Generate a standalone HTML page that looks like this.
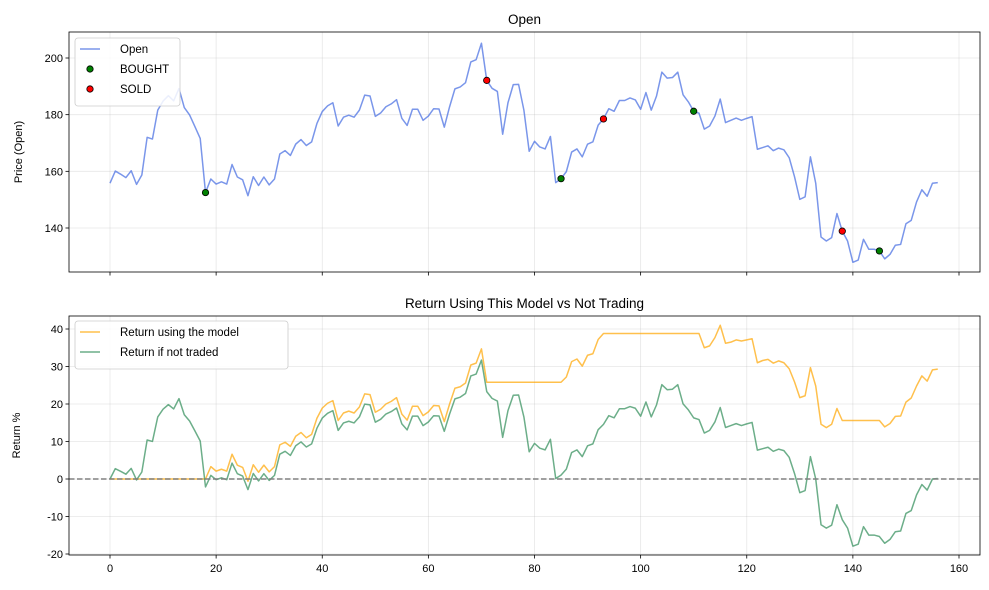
<!DOCTYPE html>
<html><head><meta charset="utf-8">
<style>
body{margin:0;background:#fff;}
svg{display:block;font-family:"Liberation Sans","DejaVu Sans",sans-serif;}
</style></head>
<body>
<svg id="chart" width="989" height="590" viewBox="0 0 989 590" xmlns="http://www.w3.org/2000/svg"></svg>
<script>
const openPrices = [155.8,160.1,159,157.8,160.2,155.4,158.7,172,171.4,181.6,184.8,186.7,184.9,189.2,182.5,179.9,175.8,171.6,152.5,157.3,
155.5,156.3,155.5,162.4,158,157,151.4,158.1,155,158,155.2,157.3,166.1,167.3,165.6,169.6,171.2,169.1,170.4,176.9,
181.1,183.1,184.2,176,179.1,179.8,179.1,181.6,186.9,186.6,179.4,180.6,182.8,183.8,185.3,178.7,176.2,181.9,181.9,178,
179.5,182.1,182,175.6,182.8,189.1,189.8,191.3,198.6,199.4,205.2,192.1,189.3,188.2,173.1,184.2,190.6,190.7,181.6,167.1,
170.6,168.6,167.9,172.3,156,157.4,159.9,166.8,167.9,165.1,169.6,170.4,176.3,178.5,182.1,181.2,185,185,185.9,185.2,
181.9,187.8,181.6,186.6,195,192.9,193.1,195,187,184.5,181.2,180.5,174.9,176,179.5,185.5,177.2,178,178.8,178,
178.7,179.3,167.8,168.4,169,167.3,168.2,167.6,164.8,158.1,150.1,151,165.1,155.8,136.8,135.4,136.6,145.1,138.9,135.4,
127.9,128.7,136,132.5,132.5,131.9,129.1,130.7,133.9,134.2,141.5,142.7,149.2,153.5,151.2,155.8,156];
const modelReturn = [0,0,0,0,0,0,0,0,0,0,0,0,0,0,0,0,0,0,0,3.3,
2.1,2.6,2.1,6.6,3.7,3.1,-0.6,3.8,1.8,3.7,1.9,3.3,9.1,9.8,8.7,11.4,12.4,11.0,11.9,16.2,
18.9,20.2,20.9,15.6,17.6,18.1,17.6,19.2,22.7,22.5,17.8,18.6,20.0,20.7,21.7,17.3,15.7,19.4,19.4,16.9,
17.9,19.6,19.5,15.3,20.0,24.2,24.6,25.6,30.4,30.9,34.7,25.8,25.8,25.8,25.8,25.8,25.8,25.8,25.8,25.8,
25.8,25.8,25.8,25.8,25.8,25.8,27.2,31.3,32,30.1,33,33.4,37.2,38.8,38.8,38.8,38.8,38.8,38.8,38.8,
38.8,38.8,38.8,38.8,38.8,38.8,38.8,38.8,38.8,38.8,38.8,38.8,35,35.5,37.7,41,36.2,36.5,37.1,36.8,
37.1,37.4,31,31.6,31.9,30.9,31.5,31,29.4,25.9,21.7,22.2,29.7,24.8,14.6,13.7,14.6,18.8,15.6,15.6,
15.6,15.6,15.6,15.6,15.6,15.6,13.9,14.8,16.7,16.8,20.5,21.6,24.8,27.5,26.1,29.1,29.3];
const boughtIdx = [18,85,110,145];
const soldIdx = [71,93,138];
const xTicks = [0,20,40,60,80,100,120,140,160];
const priceTicks = [140,160,180,200];
const returnTicks = [-20,-10,0,10,20,30,40];

const noTradeReturn = openPrices.map(v => (v/openPrices[0]-1)*100);

const NS = "http://www.w3.org/2000/svg";
const svg = document.getElementById('chart');
function mk(tag, attrs, parent){
  const e = document.createElementNS(NS, tag);
  for (const k in attrs) e.setAttribute(k, attrs[k]);
  (parent||svg).appendChild(e);
  return e;
}
const L = 69, R = 980;
const xs = i => 110 + (i)*(959-110)/160;
const yTop = v => 58 + (200 - v)*2.8333;
const yBot = v => 479 - v*3.75;

function axes(top, bottom, yFn, yticks, title, ylabel, ylx, showX, name){
  const g = mk('g', {});
  
  
  xTicks.forEach(t => {
    const l = mk('line', {x1:xs(t), x2:xs(t), y1:top, y2:bottom, stroke:'#b0b0b0', 'stroke-opacity':0.3, 'stroke-width':0.8}, g);
    
    
  });
  yticks.forEach(t => {
    const y = yFn(t);
    const l = mk('line', {x1:L, x2:R, y1:y, y2:y, stroke:'#b0b0b0', 'stroke-opacity':0.3, 'stroke-width':0.8}, g);
    
    
    const tk = mk('line', {x1:L-3.5, x2:L, y1:y, y2:y, stroke:'#000', 'stroke-width':0.8}, g);
    
    
    const tx = mk('text', {x:L-6, y:y+4, 'text-anchor':'end', 'font-size':11}, g);
    tx.textContent = t;
    
    
  });
  xTicks.forEach(t => {
    const tk = mk('line', {x1:xs(t), x2:xs(t), y1:bottom, y2:bottom+3.5, stroke:'#000', 'stroke-width':0.8}, g);
    
    
    if (showX){
      const tx = mk('text', {x:xs(t), y:bottom+17, 'text-anchor':'middle', 'font-size':11}, g);
      tx.textContent = t;
      
      
    }
  });
  const tt = mk('text', {x:(L+R)/2, y:top-8, 'text-anchor':'middle', 'font-size':13.5}, g);
  tt.textContent = title;
  
  
  const yl = mk('text', {x:0, y:0, 'text-anchor':'middle', 'font-size':11, transform:`translate(${ylx},${(top+bottom)/2}) rotate(-90)`}, g);
  yl.textContent = ylabel;
  
  
  return g;
}
function frame(top, bottom){
  const r = mk('rect', {x:L, y:top, width:R-L, height:bottom-top, fill:'none', stroke:'#000', 'stroke-width':0.8});
  
  
}
function line(data, yFn, color, name){
  const d = data.map((v,i) => (i?'L':'M') + xs(i).toFixed(2) + ',' + yFn(v).toFixed(2)).join('');
  const p = mk('path', {d, fill:'none', stroke:color, 'stroke-width':1.5, 'stroke-linejoin':'round'});
  
  
}

axes(32, 272, yTop, priceTicks, 'Open', 'Price (Open)', 22, false, 'price-axes');
line(openPrices, yTop, 'rgba(65,105,225,0.7)', 'open-line');
boughtIdx.forEach(i => {
  const c = mk('circle', {cx:xs(i), cy:yTop(openPrices[i]), r:3.2, fill:'#008000', stroke:'#000', 'stroke-width':0.8});
  
  
});
soldIdx.forEach(i => {
  const c = mk('circle', {cx:xs(i), cy:yTop(openPrices[i]), r:3.2, fill:'#ff0000', stroke:'#000', 'stroke-width':0.8});
  
  
});
frame(32, 272);

axes(316, 555, yBot, returnTicks, 'Return Using This Model vs Not Trading', 'Return %', 20, true, 'return-axes');
line(modelReturn, yBot, 'rgba(255,165,0,0.7)', 'model-return-line');
line(noTradeReturn, yBot, 'rgba(46,139,87,0.7)', 'no-trade-return-line');
const zl = mk('line', {x1:L, x2:R, y1:yBot(0), y2:yBot(0), stroke:'#808080', 'stroke-width':1.5, 'stroke-dasharray':'5.5,2.5'});


frame(316, 555);

function legend(x, y, w, h, entries, name){
  const g = mk('g', {});
  
  
  mk('rect', {x, y, width:w, height:h, rx:3, fill:'#fff', 'fill-opacity':0.85, stroke:'#ccc', 'stroke-width':0.8}, g);
  entries.forEach((e, k) => {
    const cy = y + 11 + k*20;
    const eg = mk('g', {}, g);
    
    
    if (e.type === 'line') mk('line', {x1:x+5, x2:x+25, y1:cy, y2:cy, stroke:e.color, 'stroke-width':1.5}, eg);
    else mk('circle', {cx:x+15, cy, r:3.2, fill:e.color, stroke:'#000', 'stroke-width':0.8}, eg);
    const t = mk('text', {x:x+45, y:cy+4, 'font-size':11.5}, eg);
    t.textContent = e.label;
  });
}
legend(75, 38, 105, 68, [
  {type:'line', color:'rgba(65,105,225,0.7)', label:'Open'},
  {type:'dot', color:'#008000', label:'BOUGHT'},
  {type:'dot', color:'#ff0000', label:'SOLD'}], 'price-legend');
legend(75, 321, 213, 48, [
  {type:'line', color:'rgba(255,165,0,0.7)', label:'Return using the model'},
  {type:'line', color:'rgba(46,139,87,0.7)', label:'Return if not traded'}], 'return-legend');
</script>
</body></html>
